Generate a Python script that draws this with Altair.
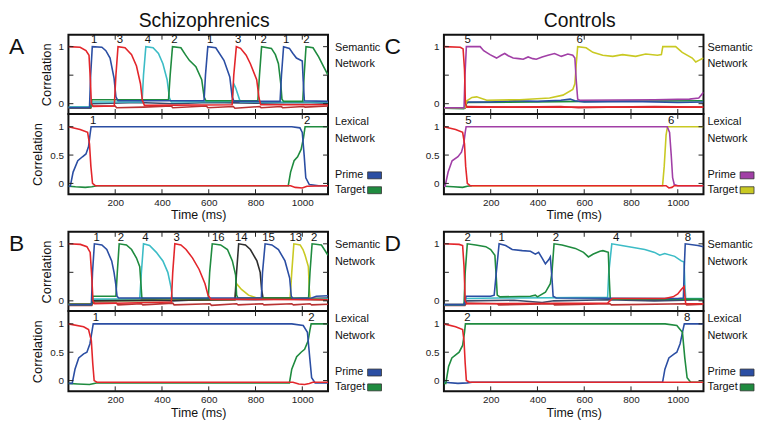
import altair as alt
import pandas as pd

X_DOMAIN = [0, 1110]
SEM_DOMAIN = [-0.18, 1.21]
LEX_DOMAIN = [-0.19, 1.225]
X_TICKS = [200, 400, 600, 800, 1000]
Y_TICKS = [0, 0.5, 1]

RED = "#e3262b"
BLUE = "#2b4ea3"
CYAN = "#3cbcc6"
GREEN = "#1f8b3f"
PURPLE = "#a13fa6"
YELLOW = "#c9c923"
DARK = "#2e2e2e"
LOWRED = "#b83232"
LOWDARK = "#3b4a6a"

NARROW = "'Liberation Sans Narrow', 'Arial Narrow', 'Liberation Sans', Arial, sans-serif"
REG = "'Liberation Sans', Arial, sans-serif"

# ---------------- Panel A (Schizophrenics) ----------------
A_SEM_RED = [(0, 1.0), (50, 0.99), (75, 0.93), (88, 0.85), (94, 0.4), (98, 0.0), (106, -0.05), (196, -0.04), (203, 0.5), (212, 1.0), (242, 0.98), (270, 0.86), (291, 0.66), (308, 0.35), (316, 0.06), (325, -0.03), (700, -0.02), (707, 0.5), (718, 1.0), (736, 0.97), (760, 0.85), (778, 0.7), (805, 0.42), (815, 0.1), (822, -0.02), (1110, -0.02)]
A_SEM_BLUE = [(0, -0.07), (90, -0.07), (95, 0.5), (102, 1.0), (143, 0.99), (160, 0.93), (178, 0.8), (195, 0.45), (203, 0.12), (212, 0.05), (580, 0.05), (586, 0.5), (596, 1.0), (630, 0.98), (665, 0.76), (690, 0.47), (700, 0.12), (708, 0.04), (905, 0.04), (911, 0.5), (920, 1.0), (945, 0.97), (960, 0.88), (975, 0.8), (1000, 0.75), (1004, 0.4), (1009, 0.05), (1110, 0.04)]
A_SEM_CYAN = [(0, -0.06), (95, -0.06), (100, 0.03), (315, 0.03), (321, 0.5), (331, 1.0), (362, 0.98), (385, 0.88), (404, 0.7), (422, 0.42), (432, 0.1), (440, 0.03), (700, 0.04), (707, 0.35), (715, 0.28), (735, 0.03), (1110, 0.03)]
A_SEM_GREEN = [(0, -0.07), (95, -0.07), (100, 0.07), (428, 0.07), (435, 0.5), (445, 1.0), (481, 0.98), (500, 0.86), (517, 0.76), (545, 0.65), (570, 0.42), (580, 0.12), (588, 0.05), (810, 0.05), (817, 0.5), (826, 1.0), (868, 0.97), (885, 0.86), (898, 0.7), (908, 0.35), (913, 0.08), (920, 0.04), (1002, 0.04), (1008, 0.5), (1016, 1.0), (1046, 0.98), (1070, 0.82), (1090, 0.66), (1110, 0.5)]
A_SEM_LOWRED = [(0, -0.08), (95, -0.08), (100, -0.04), (200, -0.04), (206, -0.07), (320, -0.06), (440, -0.04), (446, -0.07), (590, -0.04), (596, -0.07), (705, -0.05), (712, -0.08), (818, -0.05), (824, -0.07), (910, -0.05), (916, -0.07), (1005, -0.05), (1012, -0.06), (1110, -0.04)]
A_SEM_LOWDARK = [(0, -0.06), (95, -0.06), (100, 0.0), (300, 0.02), (450, 0.0), (600, 0.02), (800, 0.01), (1000, 0.02), (1110, 0.01)]
A_SEM_LABEL_T = [110, 220, 340, 453, 606, 726, 835, 931, 1018]
A_SEM_LABELS = ["1", "3", "4", "2", "1", "3", "2", "1", "2"]

A_LEX_RED = [(0, 1.0), (50, 0.95), (82, 0.9), (90, 0.7), (96, 0.3), (103, 0.0), (115, -0.04), (950, -0.04), (970, -0.07), (1000, -0.08), (1020, -0.05), (1110, -0.04)]
A_LEX_BLUE = [(0, -0.05), (8, -0.05), (20, 0.2), (40, 0.4), (60, 0.47), (75, 0.52), (86, 0.65), (92, 0.85), (97, 1.0), (955, 1.0), (990, 0.98), (1000, 0.9), (1008, 0.5), (1015, 0.1), (1030, -0.02), (1070, -0.04), (1110, -0.04)]
A_LEX_GREEN = [(0, -0.05), (30, -0.06), (72, -0.07), (100, -0.06), (122, -0.04), (940, -0.04), (950, 0.2), (965, 0.4), (980, 0.47), (995, 0.6), (1005, 0.8), (1012, 1.0), (1110, 1.0)]
A_LEX_LABEL_T = [106, 1021]
A_LEX_LABELS = ["1", "2"]

# ---------------- Panel B (Schizophrenics) ----------------
B_SEM_RED = [(0, 1.0), (51, 0.99), (79, 0.95), (93, 0.85), (100, 0.4), (105, 0.0), (112, -0.05), (440, -0.02), (446, 0.5), (455, 1.0), (481, 0.98), (503, 0.9), (531, 0.75), (559, 0.55), (584, 0.3), (597, 0.1), (609, 0.03), (1110, 0.02)]
B_SEM_BLUE = [(0, -0.07), (98, -0.07), (103, 0.5), (111, 1.0), (143, 0.98), (164, 0.9), (185, 0.7), (195, 0.5), (202, 0.3), (208, 0.08), (215, 0.05), (825, 0.05), (830, 0.5), (841, 1.0), (870, 0.98), (898, 0.9), (926, 0.7), (946, 0.4), (953, 0.08), (960, 0.04), (1040, 0.05), (1060, 0.08), (1110, 0.09)]
B_SEM_GREEN = [(0, -0.07), (98, -0.07), (104, 0.08), (203, 0.08), (209, 0.5), (217, 1.0), (248, 0.98), (270, 0.9), (291, 0.75), (305, 0.6), (310, 0.3), (314, 0.05), (320, 0.04), (598, 0.04), (604, 0.5), (615, 1.0), (651, 0.98), (680, 0.9), (701, 0.7), (715, 0.45), (719, 0.1), (725, 0.05), (1027, 0.05), (1033, 0.5), (1042, 1.0), (1082, 0.98), (1110, 0.8)]
B_SEM_CYAN = [(0, -0.06), (98, -0.06), (104, 0.03), (305, 0.03), (312, 0.5), (321, 1.0), (347, 0.97), (376, 0.85), (404, 0.7), (425, 0.5), (438, 0.25), (445, 0.04), (1110, 0.03)]
B_SEM_DARK = [(0, -0.06), (98, -0.06), (105, 0.0), (712, 0.02), (719, 0.5), (728, 1.0), (757, 0.98), (778, 0.9), (806, 0.7), (820, 0.5), (826, 0.2), (832, 0.05), (950, 0.05), (960, 0.03), (1110, 0.02)]
B_SEM_YELLOW = [(0, -0.06), (98, -0.06), (105, 0.0), (712, 0.02), (719, 0.3), (740, 0.2), (770, 0.1), (800, 0.06), (820, 0.05), (948, 0.05), (955, 0.5), (964, 1.0), (991, 0.98), (1003, 0.9), (1012, 0.8), (1026, 0.6), (1030, 0.2), (1034, 0.03), (1110, 0.02)]
B_SEM_LOWRED = [(0, -0.08), (100, -0.08), (105, -0.04), (205, -0.04), (212, -0.07), (312, -0.05), (318, -0.07), (446, -0.04), (452, -0.07), (605, -0.05), (612, -0.08), (719, -0.05), (726, -0.07), (830, -0.05), (836, -0.07), (955, -0.05), (962, -0.07), (1033, -0.05), (1040, -0.07), (1110, -0.06)]
B_SEM_LOWDARK = [(0, -0.06), (98, -0.06), (104, 0.01), (300, 0.03), (450, 0.0), (600, 0.03), (800, 0.02), (1000, 0.04), (1110, 0.05)]
B_SEM_LABEL_T = [121, 224, 329, 463, 641, 739, 856, 972, 1051]
B_SEM_LABELS = ["1", "2", "4", "3", "16", "14", "15", "13", "2"]

B_LEX_RED = [(0, 1.0), (65, 0.95), (86, 0.9), (98, 0.7), (104, 0.3), (110, 0.0), (122, -0.03), (960, -0.03), (985, -0.06), (1010, -0.07), (1030, -0.05), (1045, -0.03), (1110, -0.03)]
B_LEX_BLUE = [(0, -0.05), (16, -0.05), (28, 0.2), (44, 0.4), (65, 0.47), (79, 0.5), (92, 0.65), (100, 0.85), (106, 1.0), (955, 1.0), (1004, 0.97), (1022, 0.85), (1032, 0.4), (1040, 0.05), (1055, -0.04), (1110, -0.04)]
B_LEX_GREEN = [(0, -0.05), (40, -0.06), (90, -0.07), (110, -0.05), (125, -0.04), (945, -0.04), (955, 0.2), (976, 0.42), (995, 0.5), (1010, 0.55), (1025, 0.7), (1033, 0.9), (1038, 1.0), (1110, 1.0)]
B_LEX_LABEL_T = [117, 1039]
B_LEX_LABELS = ["1", "2"]

# ---------------- Panel C (Controls) ----------------
C_SEM_RED = [(0, 1.0), (70, 0.99), (82, 0.96), (88, 0.6), (92, 0.0), (98, -0.06), (1110, -0.06)]
C_SEM_PURPLE = [(0, -0.07), (86, -0.07), (90, 0.5), (96, 1.0), (155, 1.0), (170, 0.93), (197, 0.86), (225, 0.8), (245, 0.85), (260, 0.88), (275, 0.84), (296, 0.8), (320, 0.79), (339, 0.78), (360, 0.82), (380, 0.79), (395, 0.78), (420, 0.82), (445, 0.85), (473, 0.88), (502, 0.83), (530, 0.87), (551, 0.85), (560, 0.8), (566, 0.4), (572, 0.08), (580, 0.06), (900, 0.07), (1050, 0.08), (1090, 0.1), (1110, 0.2)]
C_SEM_YELLOW = [(0, -0.07), (90, -0.07), (98, 0.05), (120, 0.11), (140, 0.12), (183, 0.06), (325, 0.07), (452, 0.1), (509, 0.15), (551, 0.25), (560, 0.35), (566, 0.7), (572, 1.0), (608, 0.98), (637, 0.9), (679, 0.85), (722, 0.83), (764, 0.86), (820, 0.83), (863, 0.87), (913, 0.85), (930, 0.86), (936, 1.0), (991, 1.0), (1019, 0.9), (1062, 0.8), (1077, 0.73), (1090, 0.76), (1110, 0.8)]
C_SEM_BLUE = [(0, -0.07), (90, -0.07), (98, 0.03), (200, 0.03), (300, 0.05), (400, 0.04), (500, 0.06), (540, 0.08), (560, 0.05), (600, 0.03), (800, 0.04), (1000, 0.02), (1110, 0.03)]
C_SEM_GREEN = [(0, -0.08), (85, -0.09), (92, -0.03), (100, 0.02), (600, 0.04), (1110, 0.05)]
C_SEM_LOWRED = [(0, -0.08), (90, -0.08), (96, -0.05), (300, -0.06), (500, -0.05), (575, -0.07), (700, -0.06), (900, -0.05), (1110, -0.06)]
C_SEM_LABEL_T = [102, 580]
C_SEM_LABELS = ["5", "6"]

C_LEX_RED = [(0, 1.0), (50, 0.95), (80, 0.9), (88, 0.7), (93, 0.3), (100, 0.0), (112, -0.04), (950, -0.04), (962, -0.08), (975, -0.07), (985, -0.04), (1110, -0.04)]
C_LEX_PURPLE = [(0, -0.05), (5, -0.05), (18, 0.2), (35, 0.4), (60, 0.47), (75, 0.55), (85, 0.7), (91, 0.9), (95, 1.0), (955, 1.0), (965, 0.9), (972, 0.5), (978, 0.1), (985, -0.02), (1000, -0.04), (1110, -0.04)]
C_LEX_GREEN = [(0, -0.05), (40, -0.06), (80, -0.07), (100, -0.05), (120, -0.04)]
C_LEX_YELLOW = [(120, -0.04), (935, -0.04), (942, 0.3), (950, 0.85), (956, 1.0), (1110, 1.0)]
C_LEX_LABEL_T = [105, 972]
C_LEX_LABELS = ["5", "6"]

# ---------------- Panel D (Controls) ----------------
D_SEM_RED = [(0, 1.0), (65, 0.99), (80, 0.97), (86, 0.6), (91, 0.0), (97, -0.05), (700, -0.04), (720, 0.04), (944, 0.04), (980, 0.07), (1000, 0.12), (1015, 0.2), (1027, 0.25), (1030, 0.1), (1034, -0.05), (1110, -0.05)]
D_SEM_GREEN = [(0, -0.07), (86, -0.07), (91, 0.5), (100, 1.0), (136, 0.98), (179, 0.95), (200, 0.9), (218, 0.8), (224, 0.4), (228, 0.1), (240, 0.07), (370, 0.08), (391, 0.1), (400, 0.07), (434, 0.15), (455, 0.3), (462, 0.5), (471, 1.0), (505, 0.98), (562, 0.92), (597, 0.85), (618, 0.77), (639, 0.82), (667, 0.87), (680, 0.88), (703, 0.85), (707, 0.4), (711, 0.05), (720, 0.03), (1110, 0.03)]
D_SEM_BLUE = [(0, -0.07), (86, -0.07), (95, 0.08), (200, 0.08), (215, 0.1), (224, 0.5), (236, 1.0), (264, 0.97), (292, 0.9), (335, 0.88), (370, 0.87), (391, 0.82), (405, 0.85), (420, 0.75), (434, 0.65), (448, 0.72), (455, 0.77), (462, 0.4), (467, 0.08), (480, 0.05), (1000, 0.04), (1024, 0.05), (1028, 0.6), (1032, 1.0), (1086, 0.97), (1110, 0.95)]
D_SEM_CYAN = [(0, -0.07), (86, -0.07), (95, 0.04), (230, 0.05), (300, 0.05), (700, 0.06), (705, 0.5), (718, 1.0), (760, 0.97), (816, 0.93), (859, 0.9), (901, 0.85), (923, 0.8), (944, 0.83), (987, 0.78), (1015, 0.7), (1027, 0.68), (1030, 0.3), (1034, 0.04), (1110, 0.04)]
D_SEM_LOWRED = [(0, -0.08), (90, -0.08), (96, -0.04), (228, -0.05), (234, -0.07), (467, -0.05), (473, -0.07), (710, -0.05), (716, -0.07), (1032, -0.05), (1038, -0.07), (1110, -0.06)]
D_SEM_LOWDARK = [(0, -0.06), (90, -0.06), (96, 0.0), (300, 0.01), (420, -0.03), (470, 0.0), (700, 0.02), (900, 0.0), (1110, 0.02)]
D_SEM_LABEL_T = [101, 247, 479, 736, 1043]
D_SEM_LABELS = ["2", "1", "2", "4", "8"]

D_LEX_RED = [(0, 1.0), (50, 0.95), (80, 0.9), (86, 0.7), (91, 0.3), (96, 0.0), (110, -0.03), (1110, -0.03)]
D_LEX_GREEN = [(0, -0.05), (8, -0.05), (20, 0.25), (34, 0.4), (65, 0.5), (80, 0.62), (88, 0.85), (92, 1.0), (946, 1.0), (996, 0.97), (1020, 0.85), (1030, 0.4), (1040, 0.05), (1055, -0.03), (1110, -0.03)]
D_LEX_BLUE = [(0, -0.03), (60, -0.05), (100, -0.04), (120, -0.03), (935, -0.03), (945, 0.2), (962, 0.4), (985, 0.47), (996, 0.5), (1010, 0.65), (1020, 0.85), (1028, 1.0), (1110, 1.0)]
D_LEX_LABEL_T = [100, 1040]
D_LEX_LABELS = ["2", "8"]

W = 262
H_SEM = 80
H_LEX = 81
GAP = 38


def make_df(series):
    rows = []
    for name, color, pts in series:
        for i, (t, v) in enumerate(pts):
            rows.append({"s": name, "c": color, "t": t, "v": v, "i": i})
    return pd.DataFrame(rows)


def one():
    return alt.Chart(pd.DataFrame({"k": [0]}))


def subplot(series, label_t, labels, lexical, h, ytitle, side_text, side_y,
            prime_col=None, target_col=None, letter=None, title=None, side_dx=7):
    domain = LEX_DOMAIN if lexical else SEM_DOMAIN
    xs = alt.Scale(domain=X_DOMAIN, nice=False, zero=False)
    ys = alt.Scale(domain=domain, nice=False, zero=False)
    if lexical:
        xaxis = alt.Axis(values=X_TICKS, format="d", ticks=False, domain=False, grid=False,
                         labelPadding=3, title="Time (ms)", titlePadding=2,
                         labelFontSize=10, titleFontSize=12.5, titleFontWeight="normal",
                         labelFont=NARROW, titleFont=NARROW, labelColor="#222", titleColor="#111")
    else:
        xaxis = None
    ykw = dict(values=Y_TICKS, format="~g", ticks=False, domain=False, grid=False, labelPadding=5,
               labelFontSize=10, labelFont=NARROW, labelColor="#222")
    if ytitle:
        yaxis = alt.Axis(title="Correlation", titlePadding=5, titleFontSize=13,
                         titleFont=NARROW, titleFontWeight="normal", titleColor="#111", **ykw)
    else:
        yaxis = alt.Axis(title=None, **ykw)
    X = alt.X("t:Q", scale=xs, axis=xaxis)
    Y = alt.Y("v:Q", scale=ys, axis=yaxis)

    df = make_df(series)
    lines = alt.Chart(df).mark_line(strokeWidth=1.6, clip=True).encode(
        x=X, y=Y, color=alt.Color("c:N", scale=None), detail="s:N", order="i:Q")

    lab_df = pd.DataFrame({"t": label_t, "txt": labels})
    ly = 1.1 if lexical else 1.11
    lab = alt.Chart(lab_df).mark_text(fontSize=11.5, font=REG, color="#111", baseline="middle").encode(
        x=X, y=alt.datum(ly), text="txt:N")

    tx = pd.DataFrame({"t": X_TICKS})
    ty = pd.DataFrame({"v": Y_TICKS})
    tk = dict(color="#222", strokeWidth=1)
    t_bot = alt.Chart(tx).mark_rule(**tk).encode(x=X, y=alt.value(h), y2=alt.value(h - 5))
    t_top = alt.Chart(tx).mark_rule(**tk).encode(x=X, y=alt.value(0), y2=alt.value(5))
    t_lft = alt.Chart(ty).mark_rule(**tk).encode(y=Y, x=alt.value(0), x2=alt.value(5))
    t_rgt = alt.Chart(ty).mark_rule(**tk).encode(y=Y, x=alt.value(W), x2=alt.value(W - 5))

    layers = [lines, t_bot, t_top, t_lft, t_rgt, lab]

    side = one().mark_text(text=side_text, align="left", baseline="middle", fontSize=11,
                           font=NARROW, lineHeight=17, color="#111").encode(
        x=alt.value(W + side_dx), y=alt.value(side_y))
    layers.append(side)

    if prime_col:
        for k, (txt, col) in enumerate([("Prime", prime_col), ("Target", target_col)]):
            yy = 62 + 15 * k
            layers.append(one().mark_text(text=txt, align="left", baseline="middle", fontSize=11,
                                          font=NARROW, color="#111").encode(
                x=alt.value(W + side_dx), y=alt.value(yy)))
            layers.append(one().mark_rect(fill=col, stroke="#333", strokeWidth=0.8).encode(
                x=alt.value(W + side_dx + 33), x2=alt.value(W + side_dx + 47),
                y=alt.value(yy - 3.5), y2=alt.value(yy + 3.5)))
    if letter:
        layers.append(one().mark_text(text=letter, align="left", baseline="middle", fontSize=23,
                                      font=NARROW, color="#111").encode(
            x=alt.value(-60), y=alt.value(12)))
    if title:
        layers.append(one().mark_text(text=title, align="center", baseline="alphabetic", fontSize=19.5,
                                      font=REG, color="#111").encode(
            x=alt.value(W / 2 + 6), y=alt.value(-8)))
    return alt.layer(*layers).properties(width=W, height=h)


def spacer():
    return one().mark_point(opacity=0).encode(x=alt.value(0), y=alt.value(0)).properties(
        width=W, height=GAP, view=alt.ViewBackground(stroke="transparent"))


A_sem = subplot([("a_lowred", LOWRED, A_SEM_LOWRED), ("a_lowdark", LOWDARK, A_SEM_LOWDARK),
                 ("a_cyan", CYAN, A_SEM_CYAN), ("a_green", GREEN, A_SEM_GREEN),
                 ("a_blue", BLUE, A_SEM_BLUE), ("a_red", RED, A_SEM_RED)],
                A_SEM_LABEL_T, A_SEM_LABELS, False, H_SEM, True, ["Semantic", "Network"], 13,
                letter="A", title="Schizophrenics")
A_lex = subplot([("a_green", GREEN, A_LEX_GREEN), ("a_blue", BLUE, A_LEX_BLUE), ("a_red", RED, A_LEX_RED)],
                A_LEX_LABEL_T, A_LEX_LABELS, True, H_LEX, True, ["Lexical", "Network"], 8,
                prime_col=BLUE, target_col=GREEN)

B_sem = subplot([("b_lowred", LOWRED, B_SEM_LOWRED), ("b_lowdark", LOWDARK, B_SEM_LOWDARK),
                 ("b_cyan", CYAN, B_SEM_CYAN), ("b_yellow", YELLOW, B_SEM_YELLOW),
                 ("b_dark", DARK, B_SEM_DARK), ("b_green", GREEN, B_SEM_GREEN),
                 ("b_blue", BLUE, B_SEM_BLUE), ("b_red", RED, B_SEM_RED)],
                B_SEM_LABEL_T, B_SEM_LABELS, False, H_SEM, True, ["Semantic", "Network"], 13,
                letter="B")
B_lex = subplot([("b_green", GREEN, B_LEX_GREEN), ("b_blue", BLUE, B_LEX_BLUE), ("b_red", RED, B_LEX_RED)],
                B_LEX_LABEL_T, B_LEX_LABELS, True, H_LEX, True, ["Lexical", "Network"], 8,
                prime_col=BLUE, target_col=GREEN)

C_sem = subplot([("c_lowred", LOWRED, C_SEM_LOWRED), ("c_green", GREEN, C_SEM_GREEN),
                 ("c_blue", BLUE, C_SEM_BLUE), ("c_yellow", YELLOW, C_SEM_YELLOW),
                 ("c_purple", PURPLE, C_SEM_PURPLE), ("c_red", RED, C_SEM_RED)],
                C_SEM_LABEL_T, C_SEM_LABELS, False, H_SEM, False, ["Semantic", "Network"], 13,
                letter="C", title="Controls", side_dx=4)
C_lex = subplot([("c_green", GREEN, C_LEX_GREEN), ("c_yellow", YELLOW, C_LEX_YELLOW),
                 ("c_purple", PURPLE, C_LEX_PURPLE), ("c_red", RED, C_LEX_RED)],
                C_LEX_LABEL_T, C_LEX_LABELS, True, H_LEX, False, ["Lexical", "Network"], 8,
                prime_col=PURPLE, target_col=YELLOW, side_dx=4)

D_sem = subplot([("d_lowred", LOWRED, D_SEM_LOWRED), ("d_lowdark", LOWDARK, D_SEM_LOWDARK),
                 ("d_cyan", CYAN, D_SEM_CYAN), ("d_green", GREEN, D_SEM_GREEN),
                 ("d_blue", BLUE, D_SEM_BLUE), ("d_red", RED, D_SEM_RED)],
                D_SEM_LABEL_T, D_SEM_LABELS, False, H_SEM, False, ["Semantic", "Network"], 13,
                letter="D", side_dx=4)
D_lex = subplot([("d_blue", BLUE, D_LEX_BLUE), ("d_green", GREEN, D_LEX_GREEN), ("d_red", RED, D_LEX_RED)],
                D_LEX_LABEL_T, D_LEX_LABELS, True, H_LEX, False, ["Lexical", "Network"], 8,
                prime_col=BLUE, target_col=GREEN, side_dx=4)

chart = alt.concat(
    A_sem, C_sem,
    A_lex, C_lex,
    spacer(), spacer(),
    B_sem, D_sem,
    B_lex, D_lex,
    columns=2, spacing={"row": 0, "column": 117}, bounds="flush",
).properties(
    padding=0, background="white"
).configure_view(stroke="#111", strokeWidth=2)

chart.save("out.html", embed_options={"renderer": "svg", "actions": False})
